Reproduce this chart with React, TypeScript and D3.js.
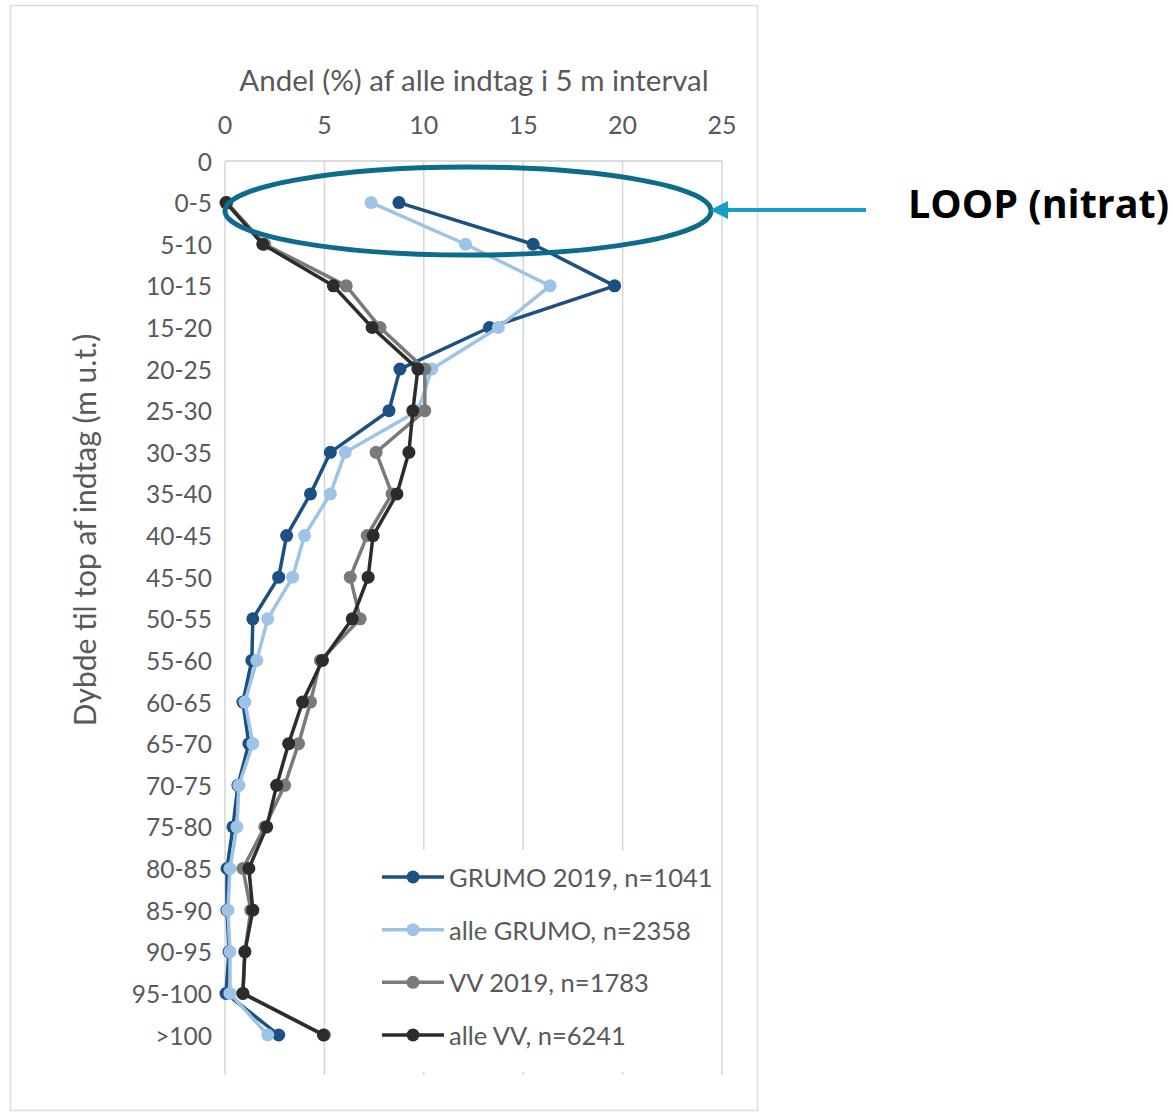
import React from "react";
import * as d3 from "d3";

const categories = ["0","0-5","5-10","10-15","15-20","20-25","25-30","30-35","35-40","40-45","45-50","50-55","55-60","60-65","65-70","70-75","75-80","80-85","85-90","90-95","95-100",">100"];
const dataCategories = categories.slice(1);

const grumo2019 = [8.75,15.5,19.6,13.3,8.8,8.25,5.3,4.3,3.1,2.7,1.4,1.35,0.9,1.2,0.65,0.4,0.1,0.1,0.2,0.05,2.7];
const alleGrumo = [7.35,12.1,16.35,13.75,10.4,9.7,6.05,5.3,4.0,3.4,2.15,1.6,1.0,1.4,0.7,0.6,0.25,0.15,0.25,0.25,2.15];
const vv2019 = [0.1,2.0,6.1,7.8,10.05,10.05,7.6,8.4,7.15,6.3,6.8,4.8,4.3,3.7,3.0,2.0,0.9,1.3,1.0,0.9,5.0];
const alleVV = [0.05,1.9,5.45,7.4,9.7,9.45,9.25,8.65,7.45,7.2,6.4,4.9,3.9,3.2,2.6,2.1,1.2,1.4,1.0,0.9,4.95];

const xTicks = [0,5,10,15,20,25];

const series = [
  { name: "GRUMO 2019, n=1041", values: grumo2019, color: "#1d5082" },
  { name: "alle GRUMO, n=2358", values: alleGrumo, color: "#9dc3e6" },
  { name: "VV 2019, n=1783", values: vv2019, color: "#7a7a7a" },
  { name: "alle VV, n=6241", values: alleVV, color: "#2c2c2c" },
];

const FONT = "Lato, 'Open Sans', sans-serif";
const TEXT = "#595959";

export default function App() {
  const x = d3.scaleLinear().domain([0, 25]).range([225, 722]);
  const y = d3.scalePoint<string>().domain(categories).range([161, 1035]);
  const plotBottom = 1075;
  const line = d3
    .line<[string, number]>()
    .x((d) => x(d[1]))
    .y((d) => y(d[0]) as number);

  const legendY = d3.scalePoint<string>().domain(series.map((s) => s.name)).range([877, 1035]);

  return (
    <svg width={1173} height={1114} style={{ position: "absolute", left: 0, top: 0, background: "#fff" }}>
      <rect x={10.5} y={5.5} width={747} height={1105} fill="#fff" stroke="#dcdcdc" strokeWidth={1.5} />
      {/* gridlines */}
      {xTicks.map((t) => (
        <line key={t} x1={x(t)} x2={x(t)} y1={161} y2={plotBottom} stroke="#d6d6d6" strokeWidth={1.5} />
      ))}
      <line x1={x(0)} x2={x(25)} y1={161} y2={161} stroke="#d0d0d0" strokeWidth={1.5} />
      {/* x tick labels */}
      {xTicks.map((t) => (
        <text key={t} x={x(t)} y={124} textAnchor="middle" dominantBaseline="central" fontFamily={FONT} fontSize={25} fill={TEXT}>
          {t}
        </text>
      ))}
      <text x={474} y={79} textAnchor="middle" dominantBaseline="central" fontFamily={FONT} fontSize={29.5} fill={TEXT}>
        Andel (%) af alle indtag i 5 m interval
      </text>
      {/* y labels */}
      {categories.map((c) => (
        <text key={c} x={212} y={y(c) as number} textAnchor="end" dominantBaseline="central" fontFamily={FONT} fontSize={24.5} fill={TEXT}>
          {c}
        </text>
      ))}
      <text
        transform={`translate(84,530) rotate(-90)`}
        textAnchor="middle"
        dominantBaseline="central"
        fontFamily={FONT}
        fontSize={30}
        fill={TEXT}
      >
        Dybde til top af indtag (m u.t.)
      </text>
      {/* legend background */}
      <rect x={375} y={850} width={346} height={222} fill="#fff" />
      {/* series */}
      {series.map((s) => {
        const pts: [string, number][] = dataCategories.map((c, i) => [c, s.values[i]]);
        return (
          <g key={s.name}>
            <path d={line(pts) || ""} fill="none" stroke={s.color} strokeWidth={3.5} strokeLinejoin="round" />
            {pts.map((p, i) => (
              <circle key={i} cx={x(p[1])} cy={y(p[0]) as number} r={6.5} fill={s.color} />
            ))}
          </g>
        );
      })}
      {/* legend */}
      {series.map((s) => {
        const ly = legendY(s.name) as number;
        return (
          <g key={s.name}>
            <line x1={382} x2={444} y1={ly} y2={ly} stroke={s.color} strokeWidth={3.5} />
            <circle cx={413} cy={ly} r={6.5} fill={s.color} />
            <text x={449} y={ly} dominantBaseline="central" fontFamily={FONT} fontSize={25.5} fill={TEXT}>
              {s.name}
            </text>
          </g>
        );
      })}
      {/* annotation */}
      <ellipse cx={468} cy={211} rx={243} ry={44} fill="none" stroke="#0d6c8c" strokeWidth={5} />
      <line x1={866} x2={724} y1={210} y2={210} stroke="#1b9cc8" strokeWidth={4} />
      <path d="M710,210 L728,201 L728,219 Z" fill="#1b9cc8" />
      <text x={908} y={218} fontFamily="'Open Sans', sans-serif" fontWeight="bold" fontSize={39.5} fill="#000">
        LOOP (nitrat)
      </text>
    </svg>
  );
}
